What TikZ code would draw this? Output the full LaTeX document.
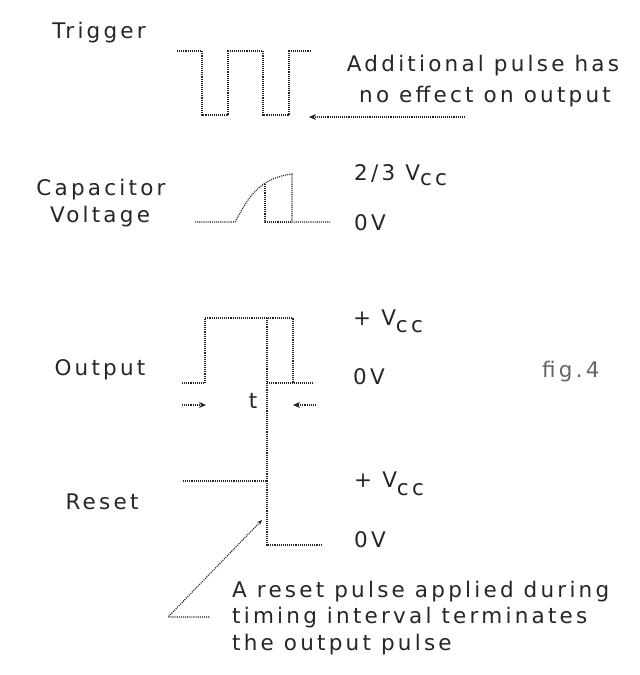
\documentclass[tikz,border=0pt]{standalone}
\usepackage{fontspec}
\setmainfont{DejaVu Sans}[LetterSpace=15]
\usetikzlibrary{arrows.meta}
\begin{document}
\begin{tikzpicture}[x=1pt,y=-1pt,
  font=\fontsize{21.5}{26}\selectfont,
  wave/.style={densely dotted, line width=1.1pt, draw=black!85},
  lbl/.style={inner sep=0pt, text=black!85},
  tip/.style={-{Stealth[length=7pt,width=6pt]}}]
\useasboundingbox[fill=white] (0,0) rectangle (640,675);

% left labels
\node[lbl, anchor=base] (trig) at (99,38) {Trigger};
\node[lbl, anchor=base] (cap1) at (101,195) {Capacitor};
\node[lbl, anchor=base] (cap2) at (100,222) {Voltage};
\node[lbl, anchor=base] (outl) at (100,375) {Output};
\node[lbl, anchor=base] (rstl) at (102,509) {Reset};

% right labels
\node[lbl, anchor=base west] (cv1) at (354,180) {2/3 V\raisebox{-5pt}{cc}};
\node[lbl, anchor=base west] (cv0) at (354,230) {0V};
\node[lbl, anchor=base west] (ov1) at (353,325) {+ V\raisebox{-7pt}{cc}};
\node[lbl, anchor=base west] (ov0) at (353,384) {0V};
\node[lbl, anchor=base west] (rv1) at (354,487) {+ V\raisebox{-8pt}{cc}};
\node[lbl, anchor=base west] (rv0) at (354,547) {0V};
\node[lbl, anchor=base west, text=black!60] (fig) at (542,377) {fig.4};

% trigger note
\node[lbl, anchor=base] (n1) at (483,71) {Additional pulse has};
\node[lbl, anchor=base] (n2) at (485,102) {no effect on output};

% reset note
\node[lbl, anchor=base west] (r1) at (232,597) {A reset pulse applied during};
\node[lbl, anchor=base west] (r2) at (232,623) {timing interval terminates};
\node[lbl, anchor=base west] (r3) at (232,650) {the output pulse};

% t label
\node[lbl, anchor=base] (tl) at (253,408) {t};

% trigger waveform
\draw[wave] (177,51)--(202,51)--(202,115)--(228,115)--(228,51)--(263,51)--(263,115)--(289,115)--(289,51)--(310,51);
\coordinate (ta) at (465,117);
\coordinate (tb) at (309,117);
\draw[wave, tip] (ta) -- (tb);

% capacitor waveform
\draw[wave] (195,222)--(235,222) .. controls (249,196) and (260,178) .. (292,174) -- (292,222) -- (330,222);
\draw[wave] (265,184) -- (265,222) -- (292,222);

% output waveform
\draw[wave] (182,383)--(205,383)--(205,318)--(293,318)--(293,383)--(313,383);
\draw[wave] (267,383)--(293,383);
\coordinate (o1a) at (182,405);
\coordinate (o1b) at (206,405);
\coordinate (o2a) at (316,405);
\coordinate (o2b) at (293,405);
\draw[wave, tip] (o1a) -- (o1b);
\draw[wave, tip] (o2a) -- (o2b);

% common vertical line and reset waveform
\draw[wave] (267,318) -- (267,481);
\draw[wave] (183,481)--(267,481)--(267,545)--(322,545);

% reset note pointer
\coordinate (pt) at (262,520);
\coordinate (pk) at (168,617);
\coordinate (pe) at (210,617);
\draw[wave, {Stealth[length=5pt,width=4pt]}-] (pt) -- (pk) -- (pe);
\end{tikzpicture}
\end{document}
